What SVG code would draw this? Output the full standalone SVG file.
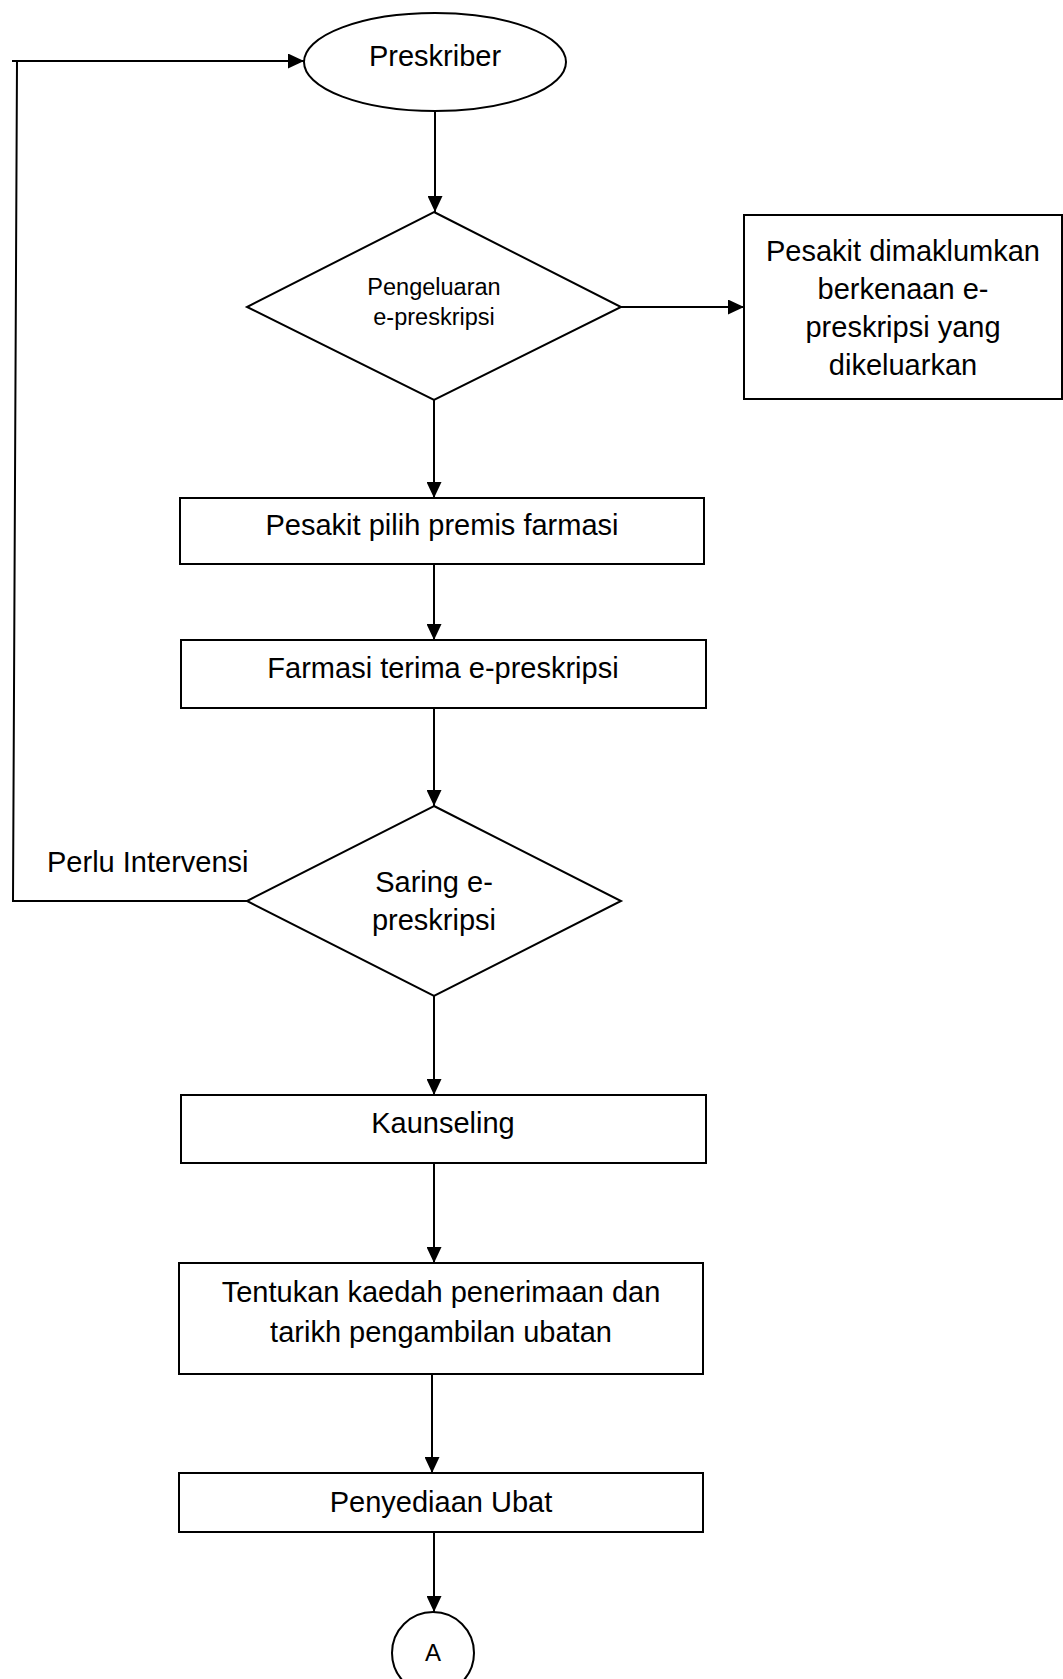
<svg xmlns="http://www.w3.org/2000/svg" width="1063" height="1679" viewBox="0 0 1063 1679">
  <style>
    .shape { fill: #ffffff; stroke: #000000; stroke-width: 2; }
    .edge { fill: none; stroke: #000000; stroke-width: 2; }
    .label { font-family: "Liberation Sans", Arial, sans-serif; font-size: 29px; fill: #000000; text-anchor: middle; }
    .small { font-size: 23.5px; }
  </style>
  <defs>
    <marker id="arrow" markerUnits="userSpaceOnUse" markerWidth="16" markerHeight="15" refX="16" refY="7.5" orient="auto">
      <path d="M0,0 L16,7.5 L0,15 Z" fill="#000000"/>
    </marker>
  </defs>
  <rect width="1063" height="1679" fill="#ffffff"/>

  <!-- connectors -->
  <g id="connectors">
    <path class="edge" d="M435 111 V212" marker-end="url(#arrow)"/>
    <path class="edge" d="M621 307 H744" marker-end="url(#arrow)"/>
    <path class="edge" d="M434 400 V498" marker-end="url(#arrow)"/>
    <path class="edge" d="M434 564 V640" marker-end="url(#arrow)"/>
    <path class="edge" d="M434 708 V806" marker-end="url(#arrow)"/>
    <path class="edge" d="M434 996 V1095" marker-end="url(#arrow)"/>
    <path class="edge" d="M434 1163 V1263" marker-end="url(#arrow)"/>
    <path class="edge" d="M432 1374 V1473" marker-end="url(#arrow)"/>
    <path class="edge" d="M434 1532 V1612" marker-end="url(#arrow)"/>
    <!-- feedback loop back to the prescriber -->
    <path class="edge" d="M247 901 H13 L17 61"/>
    <path class="edge" d="M12 61 H304" marker-end="url(#arrow)"/>
    <text class="label" x="47" y="872" style="text-anchor:start">Perlu Intervensi</text>
  </g>

  <g id="preskriber">
    <ellipse class="shape" cx="435" cy="62" rx="131" ry="49"/>
    <text class="label" x="435" y="66">Preskriber</text>
  </g>

  <g id="pengeluaran">
    <polygon class="shape" points="434,212 621,307 434,400 247,307"/>
    <text class="label small" x="434" y="295">Pengeluaran</text>
    <text class="label small" x="434" y="325">e-preskripsi</text>
  </g>

  <g id="dimaklumkan">
    <rect class="shape" x="744" y="215" width="318" height="184"/>
    <text class="label" x="903" y="261">Pesakit dimaklumkan</text>
    <text class="label" x="903" y="299">berkenaan e-</text>
    <text class="label" x="903" y="337">preskripsi yang</text>
    <text class="label" x="903" y="375">dikeluarkan</text>
  </g>

  <g id="pilih-premis">
    <rect class="shape" x="180" y="498" width="524" height="66"/>
    <text class="label" x="442" y="535">Pesakit pilih premis farmasi</text>
  </g>

  <g id="terima">
    <rect class="shape" x="181" y="640" width="525" height="68"/>
    <text class="label" x="443" y="678">Farmasi terima e-preskripsi</text>
  </g>

  <g id="saring">
    <polygon class="shape" points="434,806 621,901 434,996 247,901"/>
    <text class="label" x="434" y="892">Saring e-</text>
    <text class="label" x="434" y="930">preskripsi</text>
  </g>

  <g id="kaunseling">
    <rect class="shape" x="181" y="1095" width="525" height="68"/>
    <text class="label" x="443" y="1133">Kaunseling</text>
  </g>

  <g id="tentukan">
    <rect class="shape" x="179" y="1263" width="524" height="111"/>
    <text class="label" x="441" y="1302">Tentukan kaedah penerimaan dan</text>
    <text class="label" x="441" y="1342">tarikh pengambilan ubatan</text>
  </g>

  <g id="penyediaan">
    <rect class="shape" x="179" y="1473" width="524" height="59"/>
    <text class="label" x="441" y="1512">Penyediaan Ubat</text>
  </g>

  <g id="penyambung-a">
    <circle class="shape" cx="433" cy="1653" r="41"/>
    <text class="label" x="433" y="1661" style="font-size:24px">A</text>
  </g>
</svg>
